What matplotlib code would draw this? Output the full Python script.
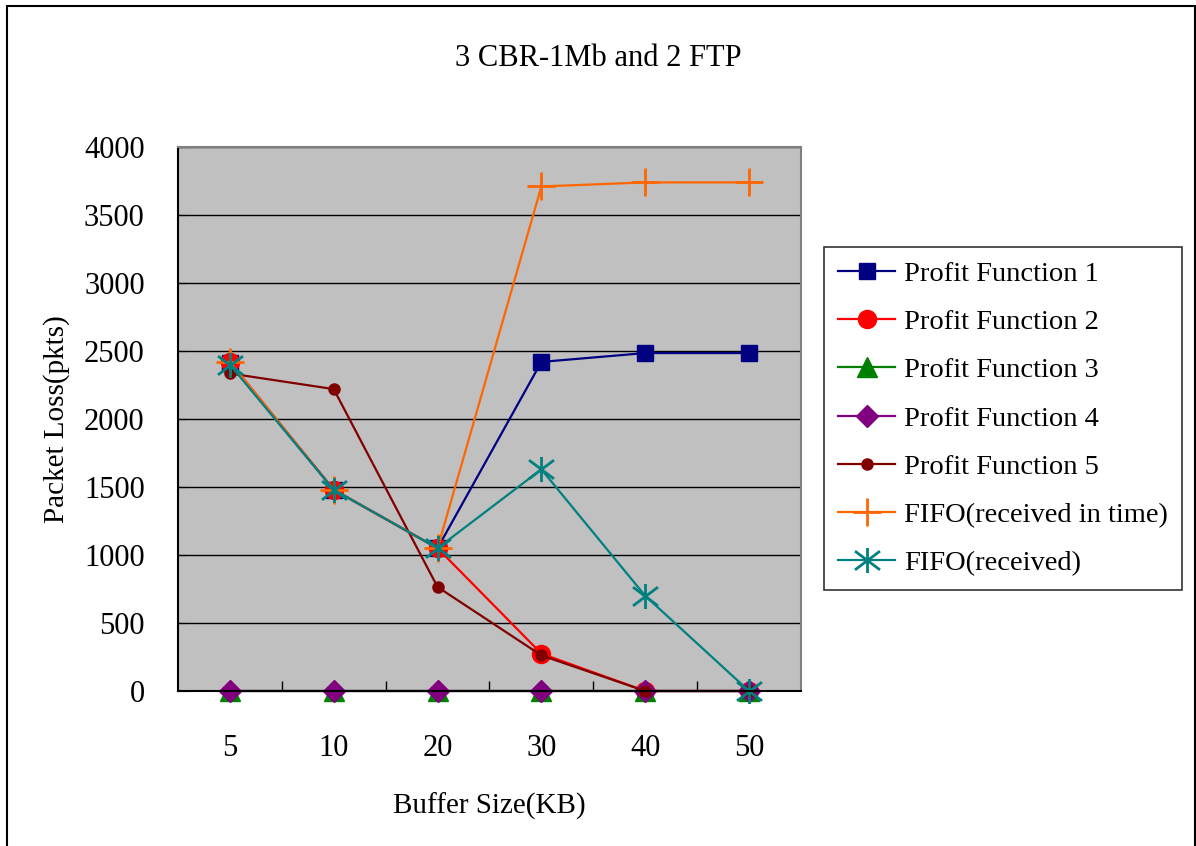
import numpy as np
import matplotlib.pyplot as plt
from matplotlib.path import Path
from matplotlib.patches import Rectangle

# Buffer sizes (KB) used as categories on the x axis
buffer_sizes = ['5', '10', '20', '30', '40', '50']

# Packet loss (pkts) for each scheme
pf1 = [2410, 1480, 1050, 2420, 2485, 2485]
pf2 = [2420, 1480, 1050, 275, 0, 0]
pf3 = [0, 0, 0, 0, 0, 0]
pf4 = [0, 0, 0, 0, 0, 0]
pf5 = [2335, 2220, 765, 262, 0, 0]
fifo_in_time = [2420, 1480, 1050, 3710, 3740, 3740]
fifo_received = [2400, 1480, 1050, 1630, 700, 0]

plt.rcParams['font.family'] = ['Liberation Serif', 'DejaVu Serif']

# asterisk marker: vertical stroke plus a wide X
star = Path([(0, -1), (0, 1), (-1, -0.75), (1, 0.75), (-1, 0.75), (1, -0.75)],
            [Path.MOVETO, Path.LINETO, Path.MOVETO, Path.LINETO, Path.MOVETO, Path.LINETO])

fig = plt.figure(figsize=(11.96, 8.46), dpi=100)
fig.patches.append(Rectangle((7 / 1196, -0.1), 1188 / 1196, 1 - 6 / 846 + 0.1,
                             transform=fig.transFigure, fill=False,
                             edgecolor='black', linewidth=1.5))

ax = fig.add_axes([0.1488, 0.1832, 0.5209, 0.643])
ax.set_facecolor('#C0C0C0')
x = np.arange(len(buffer_sizes))

lw = 1.6
ax.plot(x, pf1, color='#000080', lw=lw, marker='s', ms=12, label='Profit Function 1', clip_on=False)
ax.plot(x, pf2, color='#FF0000', lw=lw, marker='o', ms=13, label='Profit Function 2', clip_on=False)
ax.plot(x, pf3, color='#008000', lw=lw, marker='^', ms=14, label='Profit Function 3', clip_on=False)
ax.plot(x, pf4, color='#800080', lw=lw, marker='D', ms=11, label='Profit Function 4', clip_on=False)
ax.plot(x, pf5, color='#800000', lw=lw, marker='o', ms=8, label='Profit Function 5', clip_on=False)
ax.plot(x, fifo_in_time, color='#FF6600', lw=lw, marker='+', ms=20, mew=2,
        label='FIFO(received in time)', clip_on=False)
ax.plot(x, fifo_received, color='#008080', lw=lw, marker=star, ms=18, mew=2, mfc='none',
        label='FIFO(received)', clip_on=False)

ax.set_xlim(-0.5, len(buffer_sizes) - 0.5)
ax.set_ylim(0, 4000)
ax.set_yticks(np.arange(0, 4001, 500))
ax.set_xticks(x)
ax.set_xticklabels(buffer_sizes)
ax.set_xticks(np.arange(0.5, len(buffer_sizes) - 1, 1), minor=True)
ax.tick_params(axis='x', which='major', length=0, pad=31, labelsize=22)
ax.tick_params(axis='x', which='minor', direction='in', length=7, width=1, color='black')
ax.tick_params(axis='y', direction='in', length=6, pad=24, labelsize=22)
ax.yaxis.grid(True, color='black', lw=1)
ax.set_axisbelow(True)

for side in ['top', 'right']:
    ax.spines[side].set_color('#808080')
    ax.spines[side].set_linewidth(1.5)
for side in ['left', 'bottom']:
    ax.spines[side].set_color('black')
    ax.spines[side].set_linewidth(1.5)

ax.set_xlabel('Buffer Size(KB)', fontsize=21, labelpad=21)
ax.set_ylabel('Packet Loss(pkts)', fontsize=21, labelpad=10)
fig.text(0.5, 1 - 59 / 846, '3 CBR-1Mb and 2 FTP', ha='center', va='center', fontsize=22)

leg = fig.legend(loc='upper left', bbox_to_anchor=(824 / 1196, 1 - 247 / 846),
                 fontsize=20.5, frameon=True, fancybox=False, edgecolor='black',
                 handlelength=2.0, handletextpad=0.3, labelspacing=0.78,
                 borderpad=0.5, borderaxespad=0)
leg.get_frame().set_linewidth(1.2)

fig.savefig('out.png', dpi=100)
